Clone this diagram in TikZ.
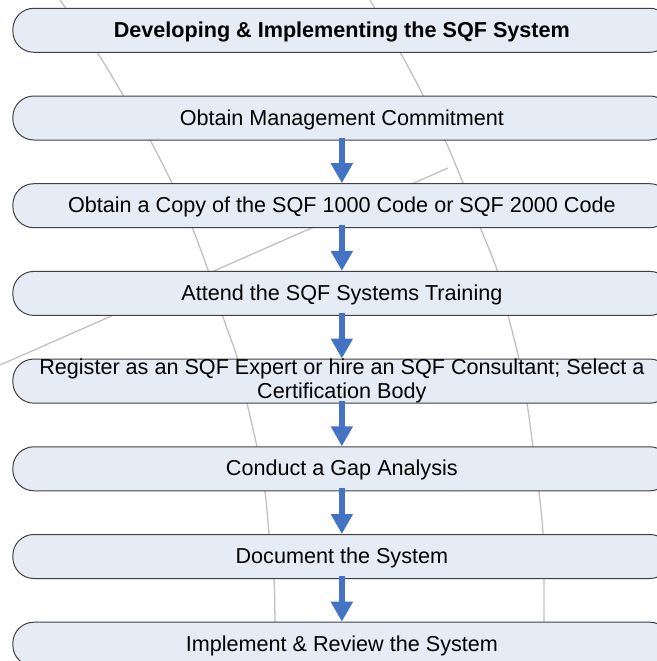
\documentclass[tikz,border=0pt]{standalone}
\usepackage{fontspec}
\setmainfont{Liberation Sans}
\usetikzlibrary{arrows.meta}
\definecolor{boxfill}{RGB}{230,236,246}
\definecolor{boxline}{RGB}{64,64,64}
\definecolor{flowblue}{RGB}{68,114,196}
\definecolor{guidegray}{RGB}{192,192,192}

\begin{document}
\begin{tikzpicture}[x=1pt,y=-1pt,
  stage/.style={draw=boxline, line width=1pt, fill=boxfill, rounded corners=21pt,
    minimum width=658pt, minimum height=44pt, inner sep=0pt, align=center,
    font=\fontsize{21.6}{24}\selectfont},
  oneline/.style={stage, text height=15.5pt, text depth=1.5pt},
  flow/.style={draw=flowblue, line width=6pt, -{Triangle[width=21pt,length=20pt]}},
  guideline/.style={draw=guidegray, line width=1.3pt}]
\useasboundingbox (0,0) rectangle (656,661);

% background guide curves
\draw[guideline] plot[smooth] coordinates {(55,-8) (60,0) (97,52) (123,95) (150,140) (172,183)
  (192,227) (208,270) (223,317) (238,360) (247,403) (257,447) (265,492) (269,533)
  (274,580) (275,620) (276,670)};
\draw[guideline] plot[smooth] coordinates {(366,-8) (370,0) (400,52) (423,95) (445,140) (463,183)
  (480,227) (497,270) (508,315) (519,359) (527,403) (533,447) (539,492) (543,533)
  (544,580) (544,620) (544,670)};
\coordinate (diagA) at (448,168);
\coordinate (diagB) at (-10,369.4);
\draw[guideline] (diagA) -- (diagB);

% process stages
\node[oneline, font=\fontsize{21.6}{24}\selectfont\bfseries] (title) at (341.85,30.3)
  {Developing \& Implementing the SQF System};
\node[oneline] (s1) at (341.85,118.0) {Obtain Management Commitment};
\node[oneline] (s2) at (341.85,205.7) {Obtain a Copy of the SQF 1000 Code or SQF 2000 Code};
\node[oneline] (s3) at (341.85,293.4) {Attend the SQF Systems Training};
\node[stage] (s4) at (341.85,381.1) {Register as an SQF Expert or hire an SQF Consultant; Select a\\Certification Body};
\node[oneline] (s5) at (341.85,468.8) {Conduct a Gap Analysis};
\node[oneline] (s6) at (341.85,556.5) {Document the System};
\node[oneline] (s7) at (341.85,644.2) {Implement \& Review the System};

% flow arrows
\foreach \a/\b in {s1/s2, s2/s3, s3/s4, s4/s5, s5/s6, s6/s7}
  \draw[flow] ([yshift=3pt]\a.south) -- (\b.north);
\end{tikzpicture}
\end{document}
